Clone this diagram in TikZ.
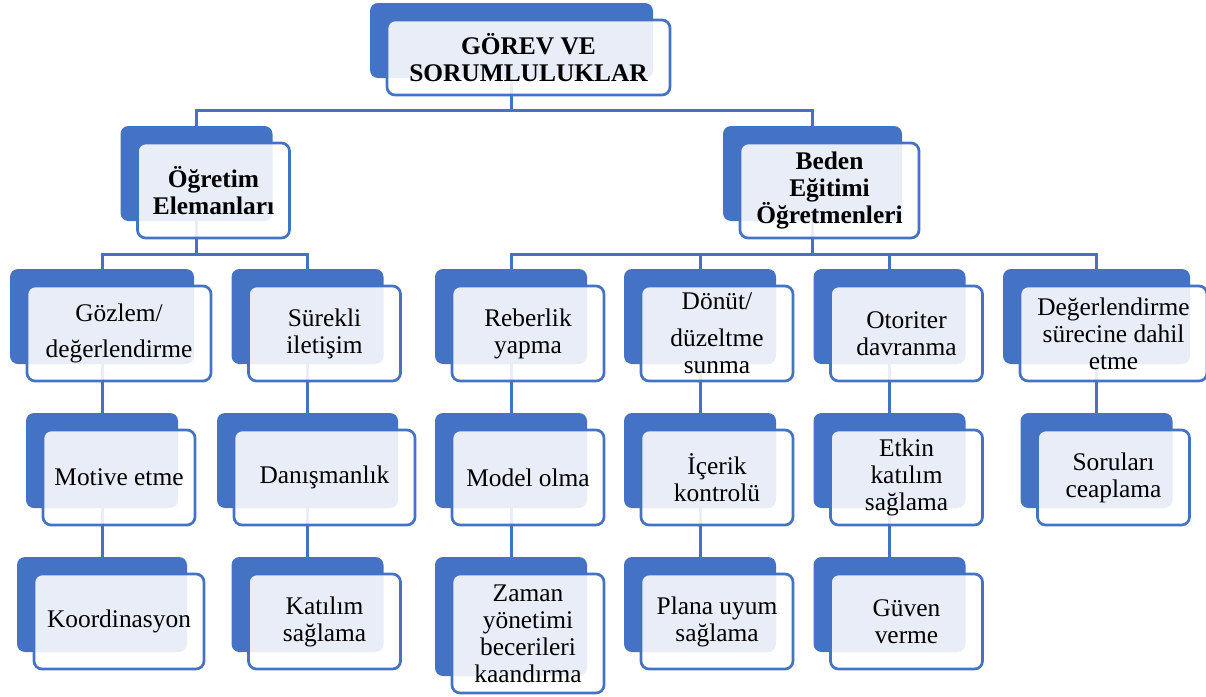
\documentclass[tikz,border=0pt]{standalone}
\usepackage{fontspec}
\setmainfont{Liberation Serif}
\usetikzlibrary{positioning}
\pgfdeclarelayer{background}
\pgfsetlayers{background,main}
\definecolor{smblue}{HTML}{4472C4}
\tikzset{
  backbox/.style={fill=smblue, rounded corners=8pt, inner sep=0pt,
    minimum width=152pt, minimum height=95pt},
  frontbox/.style={draw=smblue, line width=2.7pt, fill=white, fill opacity=0.88,
    text opacity=1, rounded corners=8pt, inner sep=0pt, align=center,
    minimum width=152pt, minimum height=95pt,
    font=\fontsize{25.4}{27}\selectfont},
  headbox/.style={frontbox, font=\fontsize{25.4}{27}\selectfont\bfseries},
  conn/.style={draw=smblue, line width=3pt},
  off/.style={shift={(17,17)}}
}

\begin{document}
\begin{tikzpicture}[x=1pt,y=-1pt]
\useasboundingbox (0,0) rectangle (1206,696);

% top
\node[backbox, minimum width=283pt, minimum height=75pt] (gorevB) at (511.5,40.5) {};
\node[headbox, minimum width=283pt, minimum height=75pt] (gorev) at ([off]gorevB) {G\"OREV VE\\SORUMLULUKLAR};

% second level
\node[backbox] (ogrB) at (196.5,173.5) {};
\node[headbox] (ogr) at ([off]ogrB) {Öğretim\\Elemanları};
\node[backbox, minimum width=179pt] (bedenB) at (812.5,173.5) {};
\node[headbox, minimum width=179pt] (beden) at ([off]bedenB) {Beden\\Eğitimi\\Öğretmenleri};

% third level
\node[backbox, minimum width=184pt] (gozlemB) at (102,316.5) {};
\node[frontbox, minimum width=184pt] (gozlem) at ([off]gozlemB) {Gözlem/\\[9pt]değerlendirme};
\node[backbox] (surekliB) at (307.5,316.5) {};
\node[frontbox] (surekli) at ([off]surekliB) {Sürekli\\iletişim};
\node[backbox] (rehberB) at (511,316.5) {};
\node[frontbox] (rehber) at ([off]rehberB) {Reberlik\\yapma};
\node[backbox] (donutB) at (700,316.5) {};
\node[frontbox] (donut) at ([off]donutB) {Dönüt/\\[10pt]düzeltme\\sunma};
\node[backbox] (otoriterB) at (889.5,316.5) {};
\node[frontbox] (otoriter) at ([off]otoriterB) {Otoriter\\davranma};
\node[backbox, minimum width=187pt] (degerB) at (1096.5,316.5) {};
\node[frontbox, minimum width=187pt] (deger) at ([off]degerB) {Değerlendirme\\sürecine dahil\\etme};

% fourth level
\node[backbox] (motiveB) at (102,460.5) {};
\node[frontbox] (motive) at ([off]motiveB) {Motive etme};
\node[backbox, minimum width=181pt] (danismaB) at (307.5,460.5) {};
\node[frontbox, minimum width=181pt] (danisma) at ([off]danismaB) {Danışmanlık};
\node[backbox] (modelB) at (511,460.5) {};
\node[frontbox] (model) at ([off]modelB) {Model olma};
\node[backbox] (icerikB) at (700,460.5) {};
\node[frontbox] (icerik) at ([off]icerikB) {İçerik\\kontrolü};
\node[backbox] (etkinB) at (889.5,460.5) {};
\node[frontbox] (etkin) at ([off]etkinB) {Etkin\\katılım\\sağlama};
\node[backbox] (sorularB) at (1096.5,460.5) {};
\node[frontbox] (sorular) at ([off]sorularB) {Soruları\\ceaplama};

% fifth level
\node[backbox, minimum width=170pt] (koordB) at (102,604.5) {};
\node[frontbox, minimum width=170pt] (koord) at ([off]koordB) {Koordinasyon};
\node[backbox] (katilimB) at (307.5,604.5) {};
\node[frontbox] (katilim) at ([off]katilimB) {Katılım\\sağlama};
\node[backbox, minimum height=119pt] (zamanB) at (511,616.5) {};
\node[frontbox, minimum height=119pt] (zaman) at ([off]zamanB) {Zaman\\yönetimi\\becerileri\\kaandırma};
\node[backbox] (planaB) at (700,604.5) {};
\node[frontbox] (plana) at ([off]planaB) {Plana uyum\\sağlama};
\node[backbox] (guvenB) at (889.5,604.5) {};
\node[frontbox] (guven) at ([off]guvenB) {Güven\\verme};

\coordinate (topbus) at (511.5,110);
\coordinate (leftbus) at (196.5,254);
\coordinate (rightbus) at (812.5,254);

\begin{pgfonlayer}{background}
\draw[conn] (gorevB.south) -- (topbus) -| (ogrB.north);
\draw[conn] (topbus) -| (bedenB.north);
\draw[conn] (ogrB.south) -- (leftbus) -| (gozlemB.north);
\draw[conn] (leftbus) -| (surekliB.north);
\draw[conn] (bedenB.south) -- (rightbus) -| (rehberB.north);
\draw[conn] (rightbus) -| (donutB.north);
\draw[conn] (rightbus) -| (otoriterB.north);
\draw[conn] (rightbus) -| (degerB.north);
\draw[conn] (gozlemB.south) -- (motiveB.north);
\draw[conn] (motiveB.south) -- (koordB.north);
\draw[conn] (surekliB.south) -- (danismaB.north);
\draw[conn] (danismaB.south) -- (katilimB.north);
\draw[conn] (rehberB.south) -- (modelB.north);
\draw[conn] (modelB.south) -- (zamanB.north);
\draw[conn] (donutB.south) -- (icerikB.north);
\draw[conn] (icerikB.south) -- (planaB.north);
\draw[conn] (otoriterB.south) -- (etkinB.north);
\draw[conn] (etkinB.south) -- (guvenB.north);
\draw[conn] (degerB.south) -- (sorularB.north);
\end{pgfonlayer}
\end{tikzpicture}
\end{document}
